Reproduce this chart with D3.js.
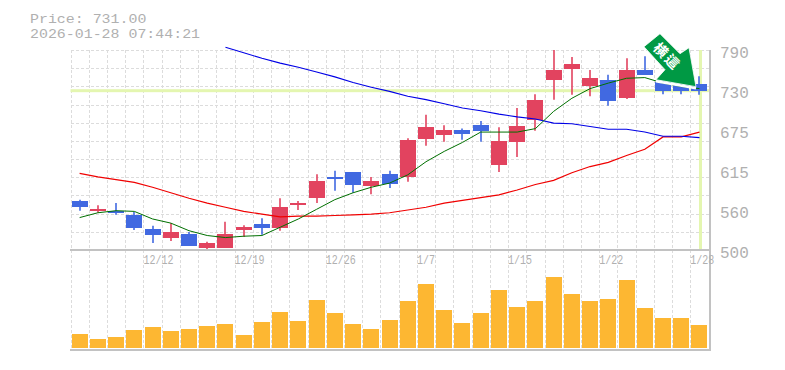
<!DOCTYPE html>
<html>
<head>
<meta charset="utf-8">
<script src="https://cdn.jsdelivr.net/npm/d3@7"></script>
<style>
    html, body { margin: 0; padding: 0; background: #fff; }
    text { font-family: "Liberation Mono", monospace; fill: #b0b0b0; }
</style>
</head>
<body>
<div id="chart"></div>
<script>
var titleLines = ['Price: 731.00', '2026-01-28 07:44:21'];
var badgeText = '横這';

var dateLabels = ['12/12', '12/19', '12/26', '1/7', '1/15', '1/22', '1/28'];
var dateLabelIndex = [4, 9, 14, 19, 24, 29, 34];

var priceTicks = [500, 558, 616, 674, 732, 790];
var priceLabels = ['500', '560', '615', '675', '730', '790'];
var currentPrice = 731;

var opens = [571, 557, 557, 551, 530, 517, 523, 503, 503, 528, 538, 531, 565, 575, 606, 613, 593, 610, 606, 660, 667, 674, 681, 623, 657, 689, 747, 763, 738, 746, 720, 761, 744, 739, 741];
var highs = [573, 565, 568, 555, 535, 539, 526, 512, 541, 536, 546, 575, 571, 610, 615, 613, 606, 615, 662, 696, 681, 676, 687, 678, 706, 726, 790, 780, 761, 754, 778, 781, 746, 743, 752];
var lows = [557, 554, 551, 529, 510, 513, 506, 499, 503, 519, 522, 528, 558, 568, 586, 583, 581, 590, 599, 651, 657, 660, 657, 613, 635, 673, 718, 725, 723, 709, 719, 754, 726, 726, 725];
var closes = [562, 560, 554, 532, 522, 526, 506, 510, 523, 533, 532, 562, 568, 600, 603, 594, 600, 596, 660, 678, 674, 668, 673, 658, 680, 718, 761, 770, 749, 716, 761, 754, 731, 731, 731];

var ma5 = [547, 554, 557, 556, 545, 539, 528, 521, 518, 520, 521, 533, 545, 559, 573, 583, 591, 597, 609, 628, 643, 656, 671, 671, 671, 676, 701, 720, 734, 742, 749, 750, 742, 737, 734];
var ma25 = [611, 606, 602, 598, 591, 583, 575, 568, 562, 556, 552, 548, 549, 549, 550, 551, 552, 554, 558, 562, 568, 572, 576, 580, 587, 595, 601, 612, 621, 627, 637, 646, 664, 664, 671];
var ma75Start = 8;
var ma75 = [794, 786, 778, 771, 765, 758, 751, 743, 736, 730, 723, 718, 712, 706, 702, 697, 693, 690, 684, 683, 679, 675, 675, 671, 665, 665, 663];
var volumes = [140, 90, 110, 180, 210, 170, 190, 220, 240, 130, 260, 360, 270, 480, 350, 240, 190, 280, 470, 640, 380, 250, 350, 580, 410, 470, 710, 540, 470, 490, 680, 400, 300, 300, 230];

var up = '#e2435f', down = '#4169e1', gridColor = '#dcdcdc', frame = '#c2c2c2', mark = '#e4f6b0';

// Set the dimensions of the canvas / graph
var width = 785, height = 370;
var left = 70.5, right = 708.6, top_ = 50, mid = 250, bottom = 350;

var svg = d3.select('#chart').append('svg')
    .attr('width', width)
    .attr('height', height)
    .style('display', 'block');

var idx = d3.range(opens.length);
var x = d3.scaleBand().domain(idx).range([left, right]);
var cx = function(i) { return x(i) + x.bandwidth() / 2; };
var y = d3.scaleLinear().domain([500, 790]).range([mid, top_]);
var v = d3.scaleLinear().domain([0, 1000]).range([348, 248]);

// Grid
var grid = svg.append('g').attr('stroke', gridColor).attr('stroke-dasharray', '3,2').attr('shape-rendering', 'crispEdges');
d3.range(opens.length + 1).forEach(function(i) {
    var gx = Math.round(left + i * x.step());
    grid.append('line').attr('x1', gx).attr('x2', gx).attr('y1', top_).attr('y2', bottom);
});
d3.range(11).forEach(function(i) {
    var gy = Math.round(top_ + i * (mid - top_) / 11);
    grid.append('line').attr('x1', left).attr('x2', right).attr('y1', gy).attr('y2', gy);
});

// Current price highlight
svg.append('rect').attr('x', left).attr('width', 640).attr('y', y(currentPrice) - 1.5).attr('height', 3).attr('fill', mark);
svg.append('rect').attr('x', cx(34) - 0.5).attr('width', 3).attr('y', top_).attr('height', mid - top_).attr('fill', mark);

// Volume bars
svg.append('g').selectAll('rect').data(volumes).join('rect')
    .attr('x', function(d, i) { return Math.round(cx(i) - 8); })
    .attr('width', 16)
    .attr('y', function(d) { return v(d); })
    .attr('height', function(d) { return v(0) - v(d); })
    .attr('fill', '#fdb732')
    .attr('shape-rendering', 'crispEdges');

// Candles
var candles = svg.append('g');
idx.forEach(function(i) {
    var color = closes[i] >= opens[i] ? up : down;
    var px = Math.round(cx(i));
    candles.append('line').attr('x1', px).attr('x2', px)
        .attr('y1', y(highs[i])).attr('y2', y(lows[i]))
        .attr('stroke', color).attr('stroke-width', 1.6);
    var top = y(Math.max(opens[i], closes[i])), bot = y(Math.min(opens[i], closes[i]));
    candles.append('rect').attr('x', px - 8).attr('width', 16)
        .attr('y', Math.round(top)).attr('height', Math.max(Math.round(bot - top), 1)).attr('fill', color)
        .attr('shape-rendering', 'crispEdges');
});

// Moving averages
var maLine = function(offset) {
    return d3.line()
        .x(function(d, i) { return cx(i + offset); })
        .y(function(d) { return y(d); });
};
svg.append('path').attr('d', maLine(0)(ma25)).attr('fill', 'none').attr('stroke', '#f00000').attr('stroke-width', 1.2);
svg.append('path').attr('d', maLine(ma75Start)(ma75)).attr('fill', 'none').attr('stroke', '#0000e6').attr('stroke-width', 1.1);
svg.append('path').attr('d', maLine(0)(ma5)).attr('fill', 'none').attr('stroke', '#007000').attr('stroke-width', 1);

// Frame
var frameG = svg.append('g').attr('stroke', frame).attr('stroke-width', 2).attr('shape-rendering', 'crispEdges');
frameG.append('line').attr('x1', 70).attr('x2', 710).attr('y1', mid).attr('y2', mid);
frameG.append('line').attr('x1', 70).attr('x2', 710).attr('y1', bottom).attr('y2', bottom);
frameG.append('line').attr('x1', 710).attr('x2', 710).attr('y1', top_).attr('y2', bottom + 1);

// Trend badge, anchored on the last candle
var badge = svg.append('g').attr('transform', 'translate(' + (cx(34) - 3.5) + ',' + (y(currentPrice) - 4) + ')');
badge.append('path').attr('d', 'M0,1.5 L-40,-5.5').attr('stroke', '#fff').attr('stroke-width', 2.5);
badge.append('path')
    .attr('d', 'M0,0 L-40,-7 L-31,-17 L-52,-40 L-36,-53 L-16,-33 L-7,-39 Z')
    .attr('fill', '#009944').attr('stroke', '#fff').attr('stroke-width', 0.8);
badge.append('text').attr('transform', 'translate(-29,-30) rotate(45)')
    .attr('text-anchor', 'middle').attr('dy', '0.35em')
    .style('font-family', '"Noto Sans CJK JP"').style('font-weight', 'bold').style('font-size', '14px')
    .style('letter-spacing', '2px').style('fill', '#fff')
    .text(badgeText);

// Axes text
var yAxis = d3.axisRight(y).tickValues(priceTicks).tickSize(0).tickPadding(0)
    .tickFormat(function(d, i) { return priceLabels[i]; });
svg.append('g').attr('transform', 'translate(720,2)').call(yAxis)
    .call(function(g) { g.select('.domain').remove(); })
    .selectAll('text').style('font-size', '16px').attr('fill', null);

var xAxis = d3.axisBottom(x).tickValues(dateLabelIndex).tickSize(0).tickPadding(0)
    .tickFormat(function(d, i) { return dateLabels[i]; });
svg.append('g').attr('transform', 'translate(0,255)').call(xAxis)
    .call(function(g) { g.select('.domain').remove(); })
    .selectAll('text')
    .attr('text-anchor', 'start')
    .attr('dx', -x.bandwidth() / 2)
    .attr('textLength', function(d, i) { return dateLabels[i].length * 6; })
    .attr('lengthAdjust', 'spacingAndGlyphs')
    .style('font-size', '12px').attr('fill', null);

svg.append('g').selectAll('text').data(titleLines).join('text')
    .attr('x', 30)
    .attr('y', function(d, i) { return 23 + i * 15; })
    .attr('textLength', function(d) { return d.length * 8.95; })
    .attr('lengthAdjust', 'spacingAndGlyphs')
    .style('font-size', '13px')
    .text(function(d) { return d; });
</script>
</body>
</html>
